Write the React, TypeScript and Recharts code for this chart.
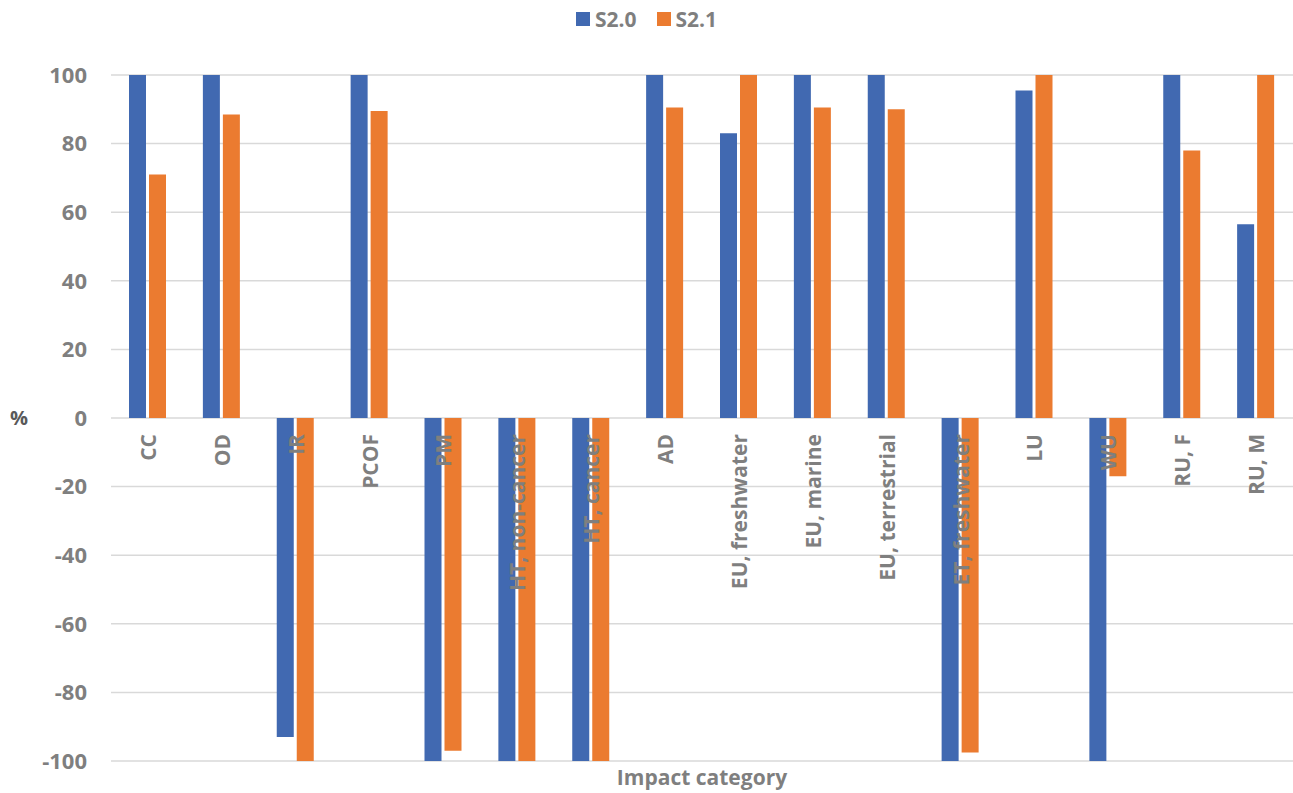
import * as React from "react"
import { BarChart, Bar, XAxis, YAxis, CartesianGrid } from "recharts"

const categories = [
  "CC", "OD", "IR", "PCOF", "PM", "HT, non-cancer", "HT, cancer", "AD",
  "EU, freshwater", "EU, marine", "EU, terrestrial", "ET, freshwater",
  "LU", "WU", "RU, F", "RU, M",
]
const s20 = [100, 100, -93, 100, -100, -100, -100, 100, 83, 100, 100, -100, 95.5, -100, 100, 56.5]
const s21 = [71, 88.5, -100, 89.5, -97, -100, -100, 90.5, 100, 90.5, 90, -97.5, 100, -17, 78, 100]
const yTicks = [-100, -80, -60, -40, -20, 0, 20, 40, 60, 80, 100]
const seriesNames = ["S2.0", "S2.1"]

const data = categories.map((name, i) => ({ name, s20: s20[i], s21: s21[i] }))

const W = 1293
const H = 793
const TOP = 75
const BOTTOM = 32
const PLOT_H = H - TOP - BOTTOM
const ZERO_Y = TOP + PLOT_H / 2

const BLUE = "#4169B1"
const ORANGE = "#EB7B30"
const GREY = "#7F7F7F"
const FONT = "'Open Sans', 'Liberation Sans', sans-serif"

// category names sit just under the zero line, rotated
function CategoryTick(props: any) {
  const { x, payload } = props
  return (
    <text
      x={x}
      y={ZERO_Y + 16}
      transform={`rotate(-90, ${x}, ${ZERO_Y + 16})`}
      textAnchor="end"
      dominantBaseline="central"
      fill={GREY}
      fontSize={21}
      fontWeight={700}
      fontFamily={FONT}
    >
      {payload.value}
    </text>
  )
}

function TopLegend() {
  const colors = [BLUE, ORANGE]
  return (
    <div
      style={{
        position: "absolute",
        top: 5,
        left: 0,
        width: W,
        display: "flex",
        justifyContent: "center",
        gap: 20,
        fontFamily: FONT,
      }}
    >
      {seriesNames.map((label, i) => (
        <div key={label} style={{ display: "flex", alignItems: "center", gap: 5 }}>
          <span style={{ width: 14, height: 14, background: colors[i], display: "inline-block" }} />
          <span style={{ color: GREY, fontSize: 21, fontWeight: 700 }}>{label}</span>
        </div>
      ))}
    </div>
  )
}

export default function App() {
  return (
    <div style={{ position: "absolute", left: 0, top: 0, width: W, height: H, background: "#fff" }}>
      <BarChart
        width={W}
        height={H}
        data={data}
        margin={{ top: TOP, right: 0, bottom: 0, left: 0 }}
        barSize={17}
        barGap={3}
      >
        <CartesianGrid vertical={false} stroke="#d9d9d9" strokeWidth={1.5} />
        <XAxis
          dataKey="name"
          height={BOTTOM}
          axisLine={false}
          tickLine={false}
          interval={0}
          tick={<CategoryTick />}
          label={{
            value: "Impact category",
            position: "insideBottom",
            offset: 8,
            fill: GREY,
            fontSize: 21,
            fontWeight: 700,
            fontFamily: FONT,
          }}
        />
        <YAxis
          width={111}
          domain={[-100, 100]}
          ticks={yTicks}
          interval={0}
          axisLine={false}
          tickLine={false}
          tickSize={0}
          tickMargin={24}
          tick={{ fill: GREY, fontSize: 22, fontWeight: 700, fontFamily: FONT }}
          label={{
            value: "%",
            position: "insideLeft",
            offset: 10,
            fill: "#595959",
            fontSize: 20,
            fontWeight: 700,
            fontFamily: FONT,
          }}
        />
        <Bar dataKey="s20" name={seriesNames[0]} fill={BLUE} isAnimationActive={false} />
        <Bar dataKey="s21" name={seriesNames[1]} fill={ORANGE} isAnimationActive={false} />
      </BarChart>
      <TopLegend />
    </div>
  )
}
